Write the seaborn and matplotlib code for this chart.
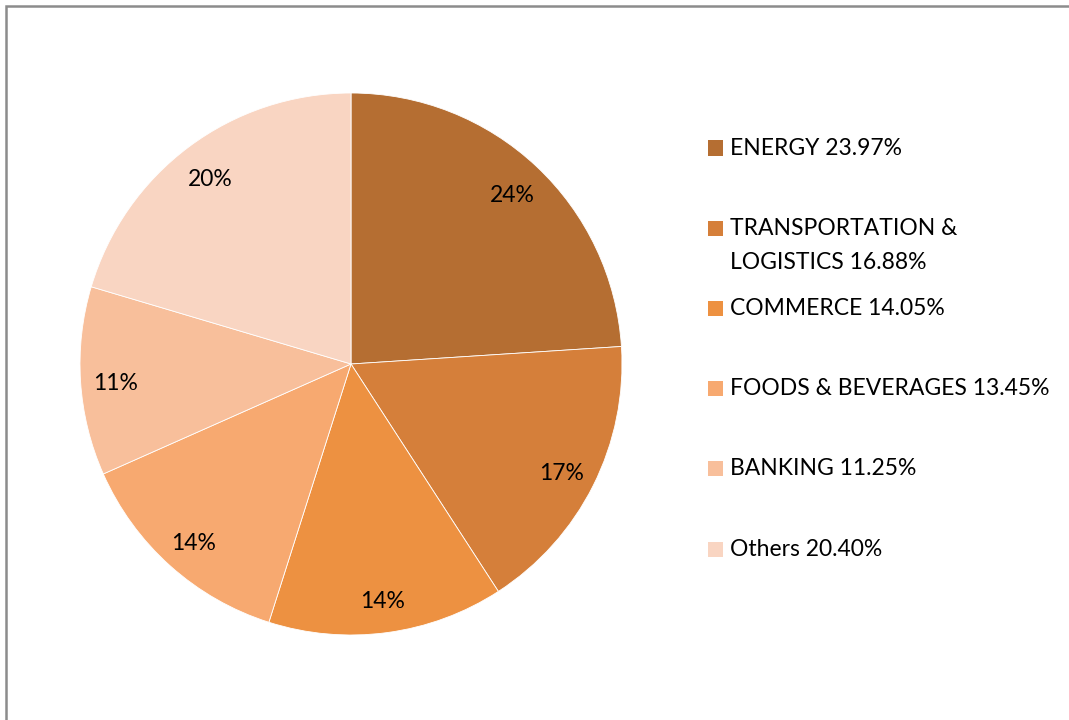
import matplotlib
matplotlib.use("Agg")
import numpy as np
import matplotlib.pyplot as plt
from matplotlib.patches import Rectangle
from matplotlib.transforms import offset_copy
import seaborn as sns

# Sector shares of the portfolio (percent)
sectors = ["ENERGY", "TRANSPORTATION &\nLOGISTICS", "COMMERCE",
           "FOODS & BEVERAGES", "BANKING", "Others"]
shares = [23.97, 16.88, 14.05, 13.45, 11.25, 20.40]
slice_labels = ["24%", "17%", "14%", "14%", "11%", "20%"]
colors = ["#B56E32", "#D57F3A", "#ED9141", "#F7A970", "#F8BF9B", "#F9D5C2"]

sns.set_theme(style="white")
plt.rcParams["font.family"] = ["Lato", "DejaVu Sans"]

W, H = 1069, 720
FS = 16.5
fig = plt.figure(figsize=(W / 100, H / 100), dpi=100)
fig.patch.set_facecolor("white")

# pie placed by pixel geometry: centre (351, 364), radius 271
cx, cy, r = 351, 364, 271
ax = fig.add_axes([(cx - r) / W, (H - cy - r) / H, 2 * r / W, 2 * r / H])
wedges, texts = ax.pie(
    shares, colors=colors, startangle=90, counterclock=False,
    wedgeprops=dict(edgecolor="white", linewidth=0.6))
ax.set_xlim(-1, 1)
ax.set_ylim(-1, 1)
ax.set_aspect("equal")
ax.axis("off")

# slice percentage labels
lab_tr = offset_copy(ax.transData, fig=fig, x=0, y=-4, units="dots")
for w, lab in zip(wedges, slice_labels):
    ang = np.deg2rad((w.theta1 + w.theta2) / 2)
    ax.text(0.87 * np.cos(ang), 0.87 * np.sin(ang), lab, transform=lab_tr,
            ha="center", va="center", fontsize=FS, color="black")

# legend keys and labels down the right side
rows_y = [148, 228, 308, 388, 468, 549]
for name, val, col, y in zip(sectors, shares, colors, rows_y):
    fig.patches.append(Rectangle((708 / W, 1 - (y + 7.5) / H), 15 / W, 15 / H,
                                 transform=fig.transFigure, facecolor=col,
                                 edgecolor="none"))
    fig.text(730 / W, 1 - (y - 10) / H, f"{name} {val:.2f}%", fontsize=FS,
             color="black", va="top", ha="left", linespacing=1.75)

# outer frame
fig.patches.append(Rectangle((5.5 / W, -0.5), 2.0, 1.5 - 5.5 / H,
                             transform=fig.transFigure, facecolor="none",
                             edgecolor="#8C8C8C", linewidth=1.8))

fig.savefig("out.png", dpi=100, facecolor="white")
